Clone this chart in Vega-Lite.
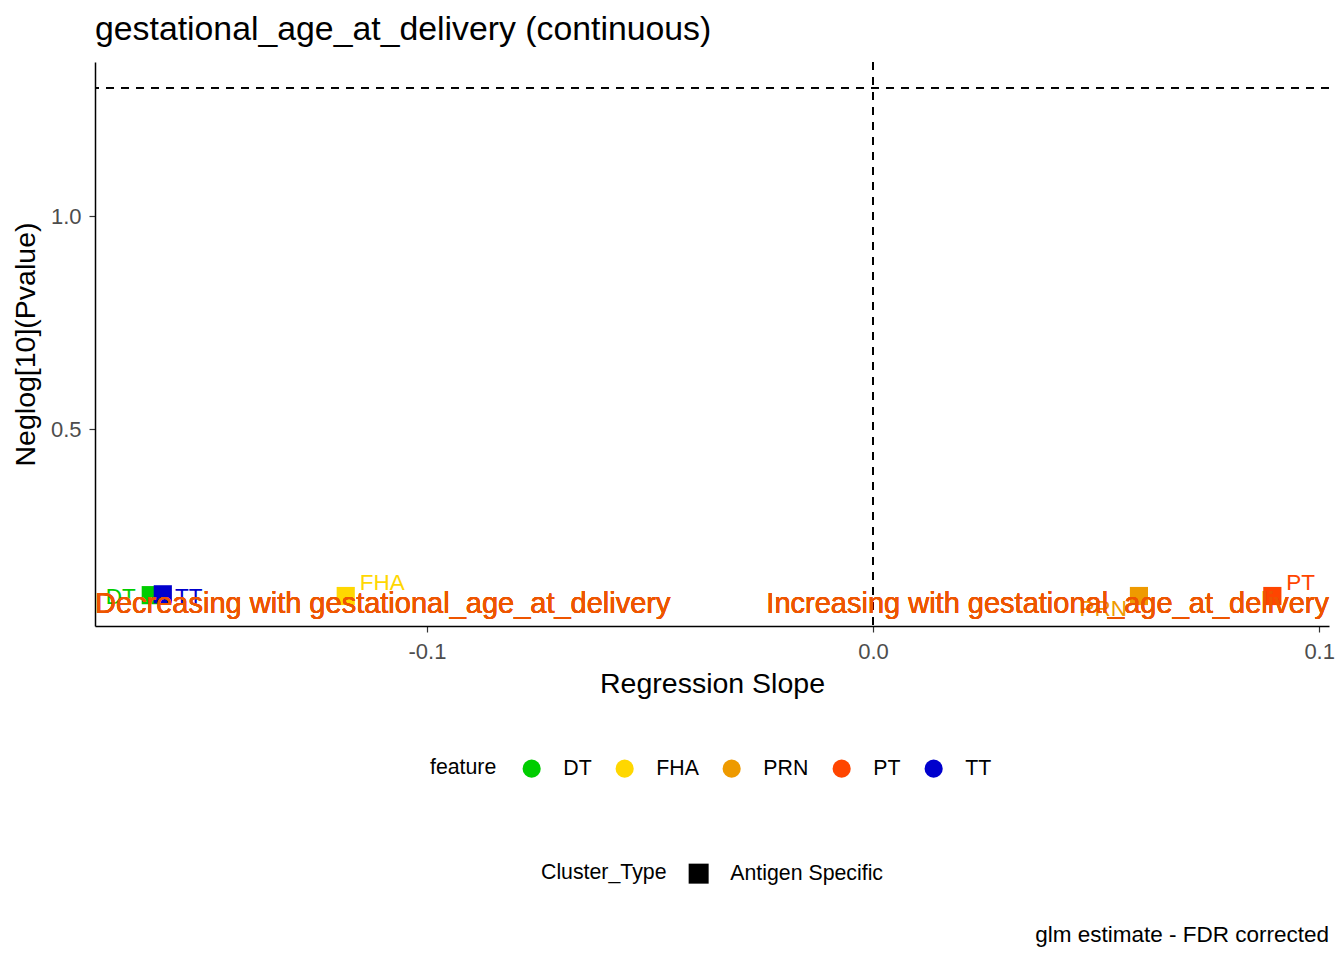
{
  "$schema": "https://vega.github.io/schema/vega-lite/v6.json",
  "padding": {"left": 11, "top": 13, "right": 15, "bottom": 10},
  "background": "white",
  "config": {
    "font": "Liberation Sans",
    "view": {"stroke": null},
    "axis": {
      "grid": false,
      "domainColor": "black",
      "domainWidth": 1.5,
      "tickColor": "#333333",
      "tickSize": 6,
      "tickWidth": 1.2,
      "labelColor": "#4D4D4D",
      "labelFontSize": 22,
      "labelFont": "Liberation Sans",
      "titleFontSize": 28.5,
      "titleFontWeight": "normal",
      "titleColor": "black",
      "titleFont": "Liberation Sans"
    },
    "legend": {
      "titleFontSize": 21.3,
      "titleFontWeight": "normal",
      "titleColor": "black",
      "labelFontSize": 21.3,
      "labelColor": "black",
      "titleFont": "Liberation Sans",
      "labelFont": "Liberation Sans"
    }
  },
  "title": {
    "text": "glm estimate - FDR corrected",
    "orient": "bottom",
    "anchor": "end",
    "frame": "group",
    "fontSize": 22.5,
    "fontWeight": "normal",
    "font": "Liberation Sans",
    "color": "black",
    "offset": 40
  },
  "vconcat": [
    {
      "width": 1234,
      "height": 564,
      "title": {
        "text": "gestational_age_at_delivery (continuous)",
        "anchor": "start",
        "frame": "group",
        "fontSize": 33.8,
        "fontWeight": "normal",
        "font": "Liberation Sans",
        "color": "black",
        "offset": 14
      },
      "data": {
        "values": [
          {"feature": "DT", "Cluster_Type": "Antigen Specific", "slope": -0.1619, "neglog": 0.110},
          {"feature": "TT", "Cluster_Type": "Antigen Specific", "slope": -0.1592, "neglog": 0.112},
          {"feature": "FHA", "Cluster_Type": "Antigen Specific", "slope": -0.1182, "neglog": 0.108},
          {"feature": "PRN", "Cluster_Type": "Antigen Specific", "slope": 0.0596, "neglog": 0.108},
          {"feature": "PT", "Cluster_Type": "Antigen Specific", "slope": 0.0895, "neglog": 0.108}
        ]
      },
      "layer": [
        {
          "mark": {"type": "rule", "strokeDash": [8, 7], "strokeWidth": 1.5, "color": "black"},
          "encoding": {"x": {"datum": 0}}
        },
        {
          "mark": {"type": "rule", "strokeDash": [8, 7], "strokeWidth": 1.5, "color": "black"},
          "encoding": {"y": {"datum": 1.30103}}
        },
        {
          "mark": {"type": "point", "filled": true, "opacity": 1, "size": 330},
          "encoding": {
            "x": {
              "field": "slope",
              "type": "quantitative",
              "title": "Regression Slope",
              "scale": {"domain": [-0.1744, 0.1022], "nice": false, "zero": false},
              "axis": {
                "values": [-0.1, 0, 0.1],
                "labelExpr": "replace(format(datum.value, '.1f'), '−', '-')",
                "titlePadding": 7,
                "labelPadding": 9
              }
            },
            "y": {
              "field": "neglog",
              "type": "quantitative",
              "title": "Neglog[10](Pvalue)",
              "scale": {"domain": [0.0376, 1.3615], "nice": false, "zero": false},
              "axis": {"values": [0.5, 1.0], "format": ".1f", "titlePadding": 10, "labelPadding": 8}
            },
            "color": {
              "field": "feature",
              "type": "nominal",
              "scale": {
                "domain": ["DT", "FHA", "PRN", "PT", "TT"],
                "range": ["#00CD00", "#FFD700", "#EE9A00", "#FF4500", "#0000CD"]
              },
              "legend": {
                "title": "feature",
                "orient": "none",
                "direction": "horizontal",
                "titleOrient": "left",
                "titleAnchor": "middle",
                "titlePadding": 24,
                "symbolType": "circle",
                "symbolSize": 330,
                "symbolStrokeWidth": 0,
                "labelOffset": 21,
                "columnPadding": 22,
                "legendX": 335,
                "legendY": 696
              }
            },
            "shape": {
              "field": "Cluster_Type",
              "type": "nominal",
              "scale": {"domain": ["Antigen Specific"], "range": ["square"]},
              "legend": {
                "title": "Cluster_Type",
                "orient": "none",
                "direction": "horizontal",
                "titleOrient": "left",
                "titleAnchor": "middle",
                "titlePadding": 21,
                "symbolFillColor": "black",
                "symbolStrokeWidth": 0,
                "symbolSize": 400,
                "labelOffset": 21,
                "legendX": 446,
                "legendY": 801
              }
            }
          }
        },
        {
          "transform": [{"filter": "datum.feature == 'DT'"}],
          "mark": {"type": "text", "fontSize": 22.5, "dx": -30, "dy": 2},
          "encoding": {
            "x": {"field": "slope", "type": "quantitative"},
            "y": {"field": "neglog", "type": "quantitative"},
            "text": {"field": "feature"},
            "color": {"field": "feature", "type": "nominal"}
          }
        },
        {
          "transform": [{"filter": "datum.feature == 'TT'"}],
          "mark": {"type": "text", "fontSize": 22.5, "dx": 26, "dy": 3},
          "encoding": {
            "x": {"field": "slope", "type": "quantitative"},
            "y": {"field": "neglog", "type": "quantitative"},
            "text": {"field": "feature"},
            "color": {"field": "feature", "type": "nominal"}
          }
        },
        {
          "transform": [{"filter": "datum.feature == 'FHA' || datum.feature == 'PT'"}],
          "mark": {"type": "text", "fontSize": 22.5, "align": "left", "dx": 14, "dy": -13},
          "encoding": {
            "x": {"field": "slope", "type": "quantitative"},
            "y": {"field": "neglog", "type": "quantitative"},
            "text": {"field": "feature"},
            "color": {"field": "feature", "type": "nominal"}
          }
        },
        {
          "transform": [{"filter": "datum.feature == 'PRN'"}],
          "mark": {"type": "text", "fontSize": 22.5, "align": "right", "dx": -12, "dy": 13},
          "encoding": {
            "x": {"field": "slope", "type": "quantitative"},
            "y": {"field": "neglog", "type": "quantitative"},
            "text": {"field": "feature"},
            "color": {"field": "feature", "type": "nominal"}
          }
        },
        {
          "mark": {"type": "text", "fontSize": 29, "align": "left", "color": "#EE5500"},
          "encoding": {
            "x": {"datum": -0.1744},
            "y": {"datum": 0.089},
            "text": {"value": "Decreasing with gestational_age_at_delivery"}
          }
        },
        {
          "mark": {"type": "text", "fontSize": 29, "align": "right", "color": "#EE5500"},
          "encoding": {
            "x": {"datum": 0.1022},
            "y": {"datum": 0.089},
            "text": {"value": "Increasing with gestational_age_at_delivery"}
          }
        }
      ]
    }
  ]
}
